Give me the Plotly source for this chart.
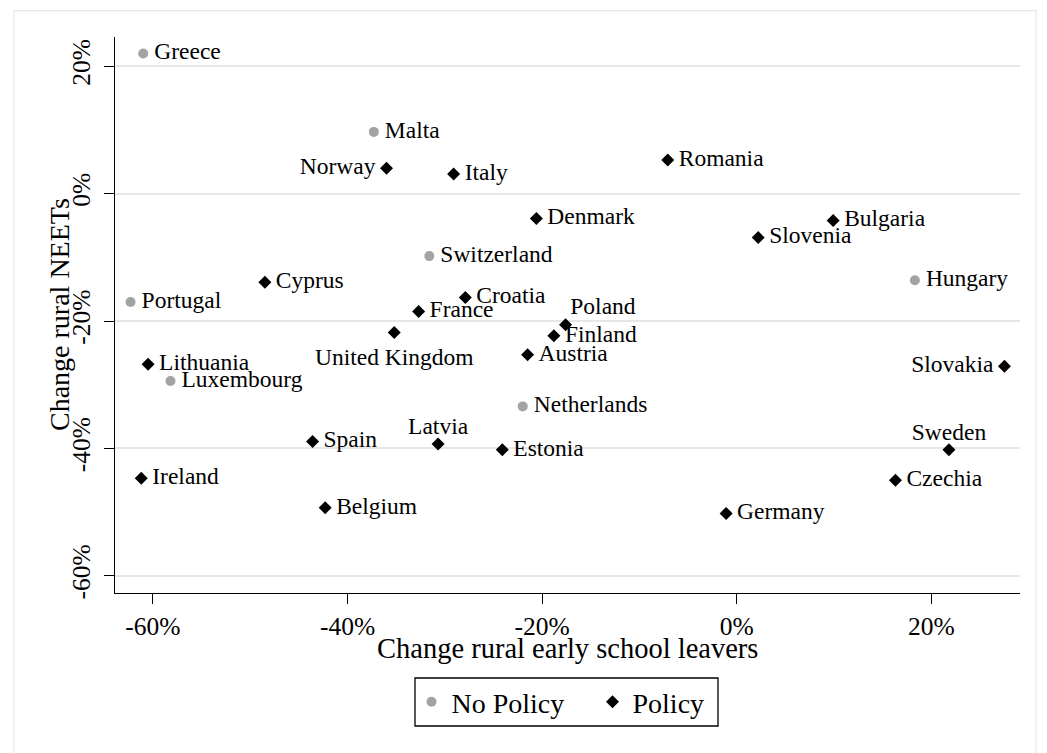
import plotly.graph_objects as go

# ---------------- data (values in percent) ----------------
nopolicy_countries = ["Greece", "Malta", "Switzerland", "Portugal", "Hungary", "Luxembourg", "Netherlands"]
nopolicy_x = [-61.0, -37.3, -31.6, -62.3, 18.3, -58.2, -22.0]
nopolicy_y = [22.0, 9.7, -9.8, -17.0, -13.6, -29.4, -33.4]

policy_countries = ["Norway", "Italy", "Romania", "Denmark", "Bulgaria", "Slovenia", "Cyprus",
                    "Croatia", "France", "Poland", "Finland", "United Kingdom", "Austria",
                    "Lithuania", "Slovakia", "Spain", "Latvia", "Estonia", "Sweden", "Ireland",
                    "Czechia", "Belgium", "Germany"]
policy_x = [-36.0, -29.1, -7.1, -20.6, 9.9, 2.2, -48.5,
            -27.9, -32.7, -17.6, -18.8, -35.2, -21.5,
            -60.5, 27.5, -43.6, -30.7, -24.1, 21.8, -61.2,
            16.3, -42.3, -1.1]
policy_y = [4.0, 3.1, 5.3, -3.9, -4.2, -6.9, -13.9,
            -16.3, -18.5, -20.6, -22.3, -21.8, -25.3,
            -26.8, -27.1, -38.9, -39.3, -40.2, -40.2, -44.7,
            -45.0, -49.3, -50.2]

x_tickvals = [-60, -40, -20, 0, 20]
x_ticktext = ["-60%", "-40%", "-20%", "0%", "20%"]
y_tickvals = [20, 0, -20, -40, -60]
y_ticktext = ["20%", "0%", "-20%", "-40%", "-60%"]

x_title = "Change rural early school leavers"
y_title = "Change rural NEETs"
legend_names = ["No Policy", "Policy"]

# ---------------- styling ----------------
FONT = "Liberation Serif"
GRAY = "#a3a3a3"
OFF = 8                      # page body margin of the html page
W, H = 1047 - OFF, 753 - OFF
ML, MR, MT, MB = 107, 27, 29, 160
PW, PH = W - ML - MR, H - MT - MB

# label placement (style): default middle right
special_pos = {
    "Norway": "middle left",
    "Slovakia": "middle left",
    "United Kingdom": "bottom center",
    "Latvia": "top center",
    "Sweden": "top center",
    "Poland": "top right",
}
# invisible marker sizes control the text offset in plotly
pos_size = {"middle right": 16, "middle left": 16, "bottom center": 22,
            "top center": 5, "top right": 6}


def label_style(names):
    pos = [special_pos.get(n, "middle right") for n in names]
    sizes = [pos_size[p] for p in pos]
    return pos, sizes


def px_to_paper_x(px):
    return (px - OFF - ML) / PW


def px_to_paper_y(py):
    return (H - MB - (py - OFF)) / PH


fig = go.Figure()

# markers
fig.add_trace(go.Scatter(x=nopolicy_x, y=nopolicy_y, mode="markers", name=legend_names[0],
                         marker=dict(symbol="circle", size=10, color=GRAY),
                         hovertext=nopolicy_countries, legend="legend"))
fig.add_trace(go.Scatter(x=policy_x, y=policy_y, mode="markers", name=legend_names[1],
                         marker=dict(symbol="diamond", size=10, color="black"),
                         hovertext=policy_countries, legend="legend2"))

# labels
for names, xs, ys in [(nopolicy_countries, nopolicy_x, nopolicy_y),
                      (policy_countries, policy_x, policy_y)]:
    pos, sizes = label_style(names)
    fig.add_trace(go.Scatter(x=xs, y=ys, mode="markers+text", text=names,
                             textposition=pos, showlegend=False, hoverinfo="skip",
                             marker=dict(size=sizes, color="white", opacity=0,
                                         line=dict(width=0)),
                             textfont=dict(family=FONT, size=23.5, color="black")))

legend_common = dict(orientation="h", xanchor="left", yanchor="top",
                     borderwidth=0, bgcolor="rgba(0,0,0,0)",
                     font=dict(family=FONT, size=28, color="black"))

fig.update_layout(
    width=W, height=H,
    margin=dict(l=ML, r=MR, t=MT, b=MB),
    paper_bgcolor="white", plot_bgcolor="white",
    font=dict(family=FONT, color="black"),
    showlegend=True,
    legend=dict(x=px_to_paper_x(411.5), y=px_to_paper_y(677), **legend_common),
    legend2=dict(x=px_to_paper_x(592.5), y=px_to_paper_y(677), **legend_common),
    xaxis=dict(range=[-63.9, 29.1], tickvals=x_tickvals, ticktext=x_ticktext,
               showgrid=False, zeroline=False, showline=True, linecolor="black",
               linewidth=1.3, ticks="outside", ticklen=10, tickwidth=1.3, tickcolor="black",
               tickfont=dict(family=FONT, size=25.5, color="black")),
    yaxis=dict(range=[-62.7, 24.6], tickvals=y_tickvals, ticktext=y_ticktext,
               showgrid=True, gridcolor="#e6e6e6", gridwidth=1.5,
               zeroline=False, showline=True, linecolor="black",
               linewidth=1.3, ticks="outside", ticklen=10, tickwidth=1.3, tickcolor="black",
               tickangle=-90, ticklabelstandoff=4,
               tickfont=dict(family=FONT, size=25.5, color="black")),
    annotations=[
        dict(text=x_title, xref="paper", yref="paper", x=0.5, y=px_to_paper_y(648),
             xanchor="center", yanchor="middle", showarrow=False,
             font=dict(family=FONT, size=28.5, color="black")),
        dict(text=y_title, xref="paper", yref="paper", x=px_to_paper_x(59), y=px_to_paper_y(315),
             xanchor="center", yanchor="middle", showarrow=False, textangle=-90,
             font=dict(family=FONT, size=28, color="black")),
    ],
    shapes=[
        dict(type="rect", xref="paper", yref="paper", layer="below",
             x0=px_to_paper_x(14), x1=px_to_paper_x(1036),
             y0=px_to_paper_y(770), y1=px_to_paper_y(10.7),
             line=dict(color="#e6e6e6", width=1.2), fillcolor="rgba(0,0,0,0)"),
        dict(type="rect", xref="paper", yref="paper", layer="above",
             x0=px_to_paper_x(415), x1=px_to_paper_x(718),
             y0=px_to_paper_y(726), y1=px_to_paper_y(678),
             line=dict(color="black", width=1.3), fillcolor="rgba(0,0,0,0)"),
    ],
)

fig.write_html("out.html")
